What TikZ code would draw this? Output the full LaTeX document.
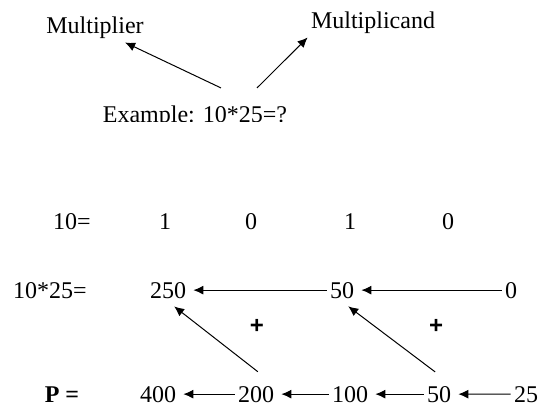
\documentclass[tikz,border=0pt]{standalone}
\usepackage{fontspec}
\setmainfont{Liberation Serif}
\newfontfamily\plusfont{Liberation Sans}
\usetikzlibrary{arrows.meta}

\begin{document}
\begin{tikzpicture}[x=0.5pt,y=-0.5pt,
    lbl/.style={anchor=base,inner sep=1.5pt,font=\fontsize{12}{14}\selectfont},
    arr/.style={-{Latex[length=5pt,width=4.5pt]},line width=0.5pt}]
    \useasboundingbox (0,0) rectangle (539,405);
    % question
    \node[lbl] (mult) at (95,34) {Multiplier};
    \node[lbl] (mcand) at (373,29) {Multiplicand};
    \begin{scope}
        \clip (0,0) rectangle (539,122);
        \node[lbl] (ex) at (195,123) {Example: 10*25=?};
    \end{scope}
    \draw[arr] ([xshift=13pt,yshift=7.5pt]ex.north) -- (mult);
    \draw[arr] ([xshift=31pt,yshift=7.5pt]ex.north) -- (mcand.south west);

    % multiplier bits
    \node[lbl] (ten) at (72,230) {10=};
    \foreach \bx/\bv [count=\i] in {165/1,251/0,350/1,448/0}
        \node[lbl] (bit\i) at (\bx,230) {\bv};

    % partial sums
    \node[lbl] (prod) at (50,298) {10*25=};
    \node[lbl] (s250) at (168,298) {250};
    \node[lbl] (s50) at (342,298) {50};
    \node[lbl] (s0) at (511,298) {0};
    \draw[arr,shorten >=2pt] (s50) -- (s250);
    \draw[arr,shorten >=2pt] (s0) -- (s50);
    \node[lbl] (plus1) at (257,333) {\plusfont\bfseries +};
    \node[lbl] (plus2) at (436,333) {\plusfont\bfseries +};

    % doubled multiplicand
    \node[lbl] (plbl) at (62,402) {\textbf{P =}};
    \foreach \px/\pv in {158/400,256/200,350/100,439/50,526/25}
        \node[lbl] (p\pv) at (\px,402) {\pv};
    \draw[arr,shorten >=2pt] (p200) -- (p400);
    \draw[arr,shorten >=2pt] (p100) -- (p200);
    \draw[arr,shorten >=2pt] (p50) -- (p100);
    \draw[arr,shorten >=2pt] (p25) -- (p50);
    \draw[arr,shorten <=8.9pt,shorten >=3.9pt] (p200.36) -- (s250.south);
    \draw[arr,shorten <=8.9pt,shorten >=3.9pt] (p50.48) -- (s50.south);
\end{tikzpicture}
\end{document}
